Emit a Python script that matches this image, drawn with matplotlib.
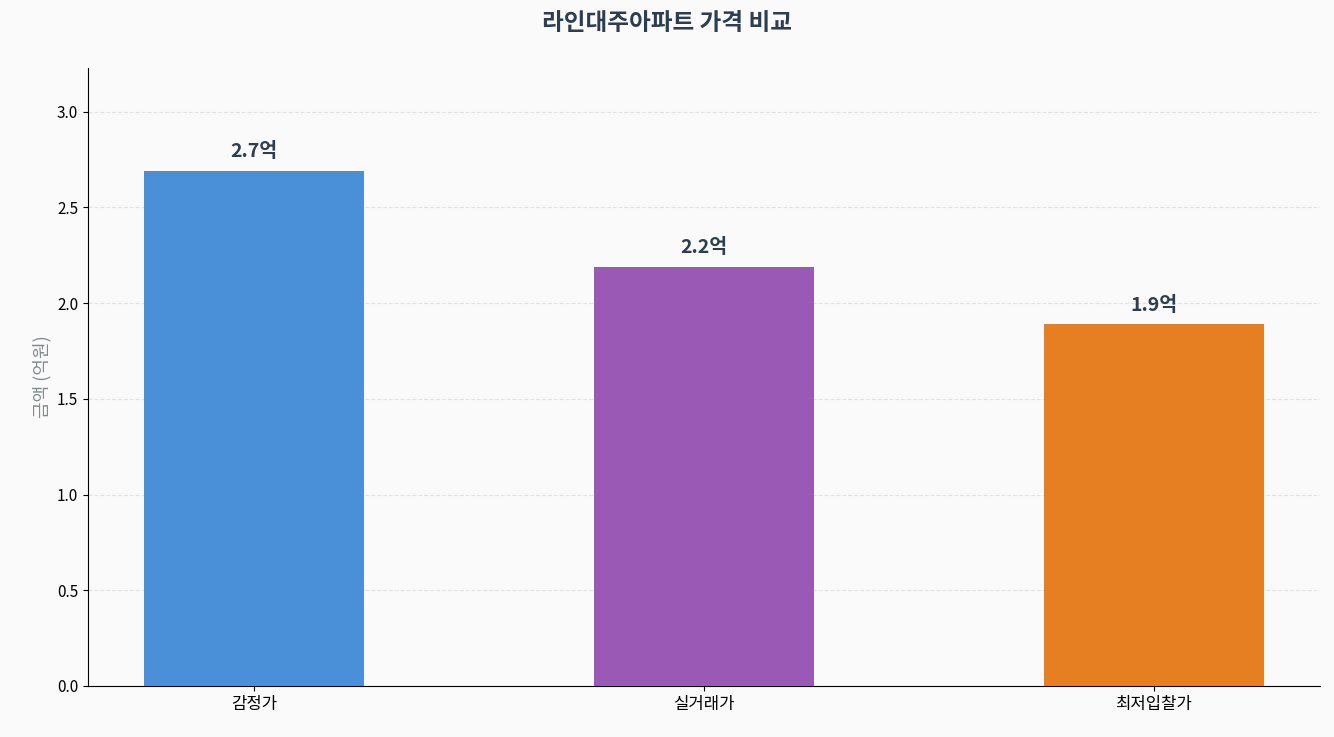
import matplotlib
matplotlib.use("Agg")
import matplotlib.pyplot as plt

plt.rcParams['font.family'] = ['Noto Sans CJK KR', 'DejaVu Sans']

categories = ['감정가', '실거래가', '최저입찰가']
values = [2.69, 2.19, 1.89]
labels = ['2.7억', '2.2억', '1.9억']
colors = ['#4a90d9', '#9b59b6', '#e67e22']

fig = plt.figure(figsize=(13.34, 7.37), dpi=100, facecolor='#fafafa')
ax = fig.add_axes([88/1334, 1-686/737, (1320-88)/1334, (686-68)/737])
ax.set_facecolor('#fafafa')
bars = ax.bar(range(len(categories)), values, width=0.49, color=colors, zorder=3)
for b, l in zip(bars, labels):
    ax.text(b.get_x()+b.get_width()/2, b.get_height()+0.05, l, ha='center', va='bottom',
            fontsize=14, fontweight='bold', color='#2c3e50')
ax.set_xticks(range(len(categories)))
ax.set_xticklabels(categories, fontsize=12)
ax.set_ylim(0, max(values)*1.2)
ax.set_yticks([0, 0.5, 1.0, 1.5, 2.0, 2.5, 3.0])
ax.tick_params(axis='y', labelsize=11)
ax.set_ylabel('금액 (억원)', fontsize=13, color='#7f8c8d')
ax.grid(axis='y', linestyle='--', color='#dddddd', alpha=0.8, zorder=0)
ax.spines['top'].set_visible(False)
ax.spines['right'].set_visible(False)
fig.suptitle('라인대주아파트 가격 비교', fontsize=17, fontweight='bold', color='#2c3e50', y=0.985)
fig.savefig('out.png', facecolor='#fafafa')
